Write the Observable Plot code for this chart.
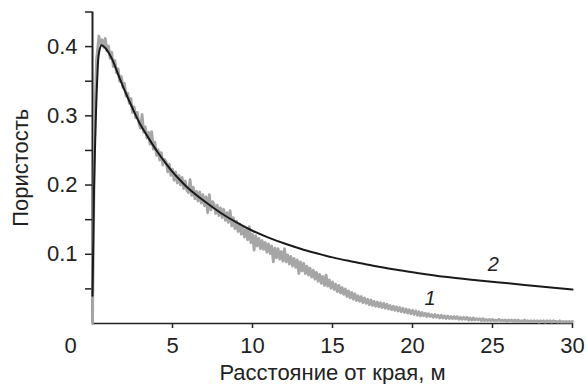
<!DOCTYPE html>
<html>
<head>
<meta charset="utf-8">
<script src="https://cdn.jsdelivr.net/npm/d3@7"></script>
<script src="https://cdn.jsdelivr.net/npm/@observablehq/plot@0.6"></script>
<style>
  html, body { margin: 0; padding: 0; background: #fff; }
</style>
</head>
<body>
<div id="chart"></div>
<script>
// Curve 2 (model, black)
const modelX = [0, 0.05, 0.1, 0.2, 0.3, 0.4, 0.56, 0.8, 1.2, 1.7, 2, 2.5, 3, 3.5, 4, 4.5, 5, 5.5, 6, 7, 8, 9, 10, 11, 12, 13, 14, 15, 16, 17, 18, 19, 20, 22, 24, 26, 28, 30];
const modelY = [0.04, 0.12, 0.2, 0.29, 0.355, 0.39, 0.402, 0.398, 0.383, 0.354, 0.337, 0.311, 0.287, 0.268, 0.25, 0.234, 0.219, 0.2065, 0.195, 0.1765, 0.16, 0.146, 0.134, 0.124, 0.1155, 0.108, 0.1015, 0.0955, 0.0905, 0.086, 0.0815, 0.0775, 0.074, 0.0675, 0.0625, 0.058, 0.0535, 0.049];

// Curve 1 (measured, grey): steep start, then samples every 0.1 m from 0.6 m
const measHeadX = [0, 0.02, 0.08, 0.15, 0.25, 0.4, 0.5];
const measHeadY = [0, 0.04, 0.17, 0.30, 0.38, 0.415, 0.404];
const measStart = 0.6, measStep = 0.1;
const measY = [
  0.410, 0.399, 0.412, 0.394, 0.401, 0.383, 0.392, 0.371, 0.380, 0.362,
  0.368, 0.350, 0.357, 0.341, 0.347, 0.328, 0.333, 0.318, 0.325, 0.305,
  0.313, 0.297, 0.305, 0.290, 0.282, 0.302, 0.276, 0.284, 0.268, 0.276,
  0.259, 0.277, 0.252, 0.262, 0.243, 0.251, 0.236, 0.247, 0.229, 0.237,
  0.234, 0.219, 0.230, 0.214, 0.223, 0.207, 0.219, 0.203, 0.214, 0.200,
  0.211, 0.195, 0.206, 0.192, 0.189, 0.208, 0.185, 0.197, 0.180, 0.191,
  0.177, 0.190, 0.174, 0.186, 0.170, 0.183, 0.160, 0.186, 0.164, 0.176,
  0.172, 0.159, 0.171, 0.156, 0.167, 0.153, 0.165, 0.149, 0.160, 0.146,
  0.163, 0.141, 0.153, 0.137, 0.148, 0.133, 0.144, 0.129, 0.139, 0.125,
  0.136, 0.121, 0.140, 0.117, 0.129, 0.106, 0.127, 0.112, 0.123, 0.108,
  0.120, 0.107, 0.117, 0.103, 0.115, 0.101, 0.112, 0.089, 0.109, 0.095,
  0.108, 0.093, 0.104, 0.090, 0.108, 0.089, 0.099, 0.086, 0.097, 0.083,
  0.094, 0.081, 0.092, 0.072, 0.089, 0.076, 0.087, 0.072, 0.083, 0.070,
  0.080, 0.067, 0.077, 0.064, 0.074, 0.061, 0.071, 0.058, 0.068, 0.055,
  0.070, 0.054, 0.063, 0.051, 0.060, 0.049, 0.057, 0.046, 0.055, 0.044,
  0.052, 0.042, 0.050, 0.039, 0.047, 0.037, 0.045, 0.035, 0.043, 0.033,
  0.040, 0.032, 0.039, 0.030, 0.037, 0.029, 0.035, 0.027, 0.034, 0.026,
  0.032, 0.025, 0.031, 0.024, 0.030, 0.023, 0.029, 0.022, 0.028, 0.021,
  0.026, 0.020, 0.025, 0.019, 0.024, 0.018, 0.023, 0.017, 0.022, 0.016,
  0.021, 0.015, 0.020, 0.014, 0.019, 0.013, 0.018, 0.012, 0.017, 0.011,
  0.016, 0.011, 0.015, 0.010, 0.014, 0.010, 0.013, 0.009, 0.013, 0.009,
  0.012, 0.008, 0.012, 0.008, 0.011, 0.007, 0.011, 0.007, 0.010, 0.007,
  0.010, 0.007, 0.010, 0.006, 0.009, 0.006, 0.009, 0.006, 0.009, 0.005,
  0.008, 0.005, 0.008, 0.005, 0.007, 0.005, 0.007, 0.004, 0.007, 0.004,
  0.006, 0.004, 0.006, 0.004, 0.006, 0.004, 0.005, 0.004, 0.006, 0.004,
  0.005, 0.004, 0.005, 0.003, 0.005, 0.004, 0.005, 0.003, 0.005, 0.003,
  0.005, 0.003, 0.004, 0.003, 0.005, 0.003, 0.004, 0.003, 0.004, 0.003,
  0.004, 0.003, 0.004, 0.002, 0.004, 0.003, 0.004, 0.002, 0.004, 0.003,
  0.004, 0.002, 0.004, 0.003, 0.003, 0.002, 0.004, 0.002, 0.003, 0.002,
  0.003, 0.002, 0.003, 0.002, 0.003
];

// Axis ticks and labels
const xTicks = [5, 10, 15, 20, 25, 30];
const yTicks = [0.05, 0.1, 0.15, 0.2, 0.25, 0.3, 0.35, 0.4, 0.45];
const yTickLabels = ["", "0.1", "", "0.2", "", "0.3", "", "0.4", ""];
const originLabel = ["0"];
const xTitle = "Расстояние от края, м";
const yTitle = "Пористость";

// Curve labels
const curveLabelText = ["1", "2"];
const curveLabelX = [21.1, 25.05];
const curveLabelY = [0.0365, 0.0856];

// Build tables
const model = modelX.map((x, i) => ({x, y: modelY[i]}));
const meas = measHeadX.map((x, i) => ({x, y: measHeadY[i]}))
  .concat(measY.map((y, i) => ({x: measStart + i * measStep, y})));
const curveLabels = curveLabelText.map((t, i) => ({t, x: curveLabelX[i], y: curveLabelY[i]}));

const ink = "#222";

const chart = Plot.plot({
  width: 587,
  height: 384,
  marginLeft: 92,
  marginRight: 15,
  marginTop: 11.5,
  marginBottom: 61,
  style: {fontFamily: "'Liberation Sans', Arial, sans-serif", fontSize: "22px", color: ink, background: "#fff"},
  x: {domain: [0, 30], label: null},
  y: {domain: [0, 0.45], label: null},
  marks: [
    Plot.ruleY([0], {stroke: ink, strokeWidth: 1.5}),
    Plot.ruleX([0], {stroke: ink, strokeWidth: 2}),
    Plot.axisY(yTicks, {tickSize: 7, tickPadding: 8, strokeWidth: 1.5, tickFormat: (d) => yTickLabels[yTicks.indexOf(d)]}),
    Plot.axisX(xTicks, {tickSize: 5, tickPadding: 9, strokeWidth: 1.5}),
    Plot.text(originLabel, {x: () => 0, y: () => 0, text: (d) => d, dx: -22, dy: 14, lineAnchor: "top", fill: ink}),
    Plot.text([yTitle], {frameAnchor: "left", textAnchor: "middle", rotate: -90, dx: -72, fill: ink}),
    Plot.text([xTitle], {frameAnchor: "bottom", textAnchor: "middle", dy: 41, lineAnchor: "top", fill: ink}),
    Plot.line(meas, {x: "x", y: "y", stroke: "#a6a6a6", strokeWidth: 2.8, strokeLinejoin: "round"}),
    Plot.line(model, {x: "x", y: "y", stroke: "#1a1a1a", strokeWidth: 2, curve: "catmull-rom"}),
    Plot.text(curveLabels, {x: "x", y: "y", text: "t", fontStyle: "italic", fontSize: 20, fill: ink})
  ]
});
document.getElementById("chart").appendChild(chart);
</script>
</body>
</html>
